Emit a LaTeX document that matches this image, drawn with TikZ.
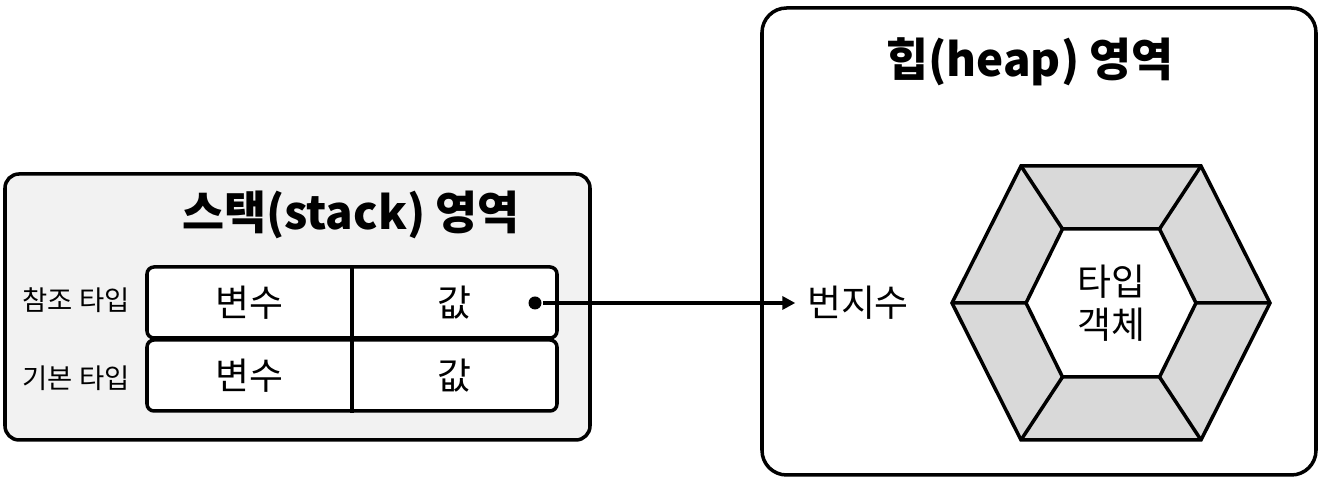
\documentclass[tikz,border=0pt]{standalone}
\usepackage{fontspec}
\setmainfont{Noto Sans CJK KR}
\usetikzlibrary{arrows.meta}
\definecolor{StackFill}{HTML}{F2F2F2}
\definecolor{HexGray}{HTML}{D9D9D9}

\begin{document}
\begin{tikzpicture}[
  line width=1pt,
  region/.style={draw,line width=1pt,inner sep=0pt},
  rowbox/.style={draw,rounded corners=2pt,fill=white,minimum width=4.10cm,minimum height=0.71cm,inner sep=0pt},
  title/.style={font=\fontsize{13}{16}\selectfont\bfseries},
  celltext/.style={font=\fontsize{10.5}{12.5}\selectfont},
  sidelabel/.style={font=\fontsize{7.8}{9}\selectfont}
]
\useasboundingbox (0,0) rectangle (13.27,4.83);
% memory regions
\node[region,rounded corners=4pt,fill=StackFill,minimum width=5.85cm,minimum height=2.66cm] (stack) at (2.975,1.76) {};
\node[region,rounded corners=7pt,fill=white,minimum width=5.54cm,minimum height=4.67cm] (heap) at (10.39,2.415) {};
\node[title] (stacktitle) at (3.51,2.68) {스택(stack) 영역};
\node[title] (heaptitle) at (10.30,4.21) {힙(heap) 영역};

% stack rows
\node[rowbox] (refrow) at (3.52,1.805) {};
\draw (refrow.north) -- (refrow.south);
\node[rowbox] (primrow) at (3.52,1.075) {};
\draw (primrow.north) -- (primrow.south);
\node[sidelabel] (reflabel) at (0.76,1.83) {참조 타입};
\node[sidelabel] (primlabel) at (0.76,1.05) {기본 타입};
\node[celltext] (refvar) at (2.495,1.805) {변수};
\node[celltext] (refval) at (4.545,1.805) {값};
\node[celltext] (primvar) at (2.495,1.075) {변수};
\node[celltext] (primval) at (4.545,1.075) {값};

% reference
\node[circle,fill,inner sep=0pt,minimum size=0.13cm] (dot) at (5.35,1.80) {};
\node[celltext,inner sep=0.1cm] (addr) at (8.58,1.80) {번지수};
\draw[-{Triangle[length=0.13cm,width=0.13cm]}] (dot) -- (addr.west);

% heap object
\begin{scope}[shift={(11.11,1.80)}]
\filldraw[fill=HexGray] (-1.59,0) -- (-0.90,1.37) -- (0.90,1.37) -- (1.59,0) -- (0.90,-1.37) -- (-0.90,-1.37) -- cycle;
\filldraw[fill=white] (-0.85,0) -- (-0.485,0.74) -- (0.485,0.74) -- (0.85,0) -- (0.485,-0.74) -- (-0.485,-0.74) -- cycle;
\draw (-1.59,0) -- (-0.85,0) (1.59,0) -- (0.85,0)
  (-0.90,1.37) -- (-0.485,0.74) (0.90,1.37) -- (0.485,0.74)
  (-0.90,-1.37) -- (-0.485,-0.74) (0.90,-1.37) -- (0.485,-0.74);
\end{scope}
\node[celltext,align=center,font=\fontsize{10.5}{12.2}\selectfont] (obj) at (11.11,1.80) {타입\\객체};
\end{tikzpicture}
\end{document}
